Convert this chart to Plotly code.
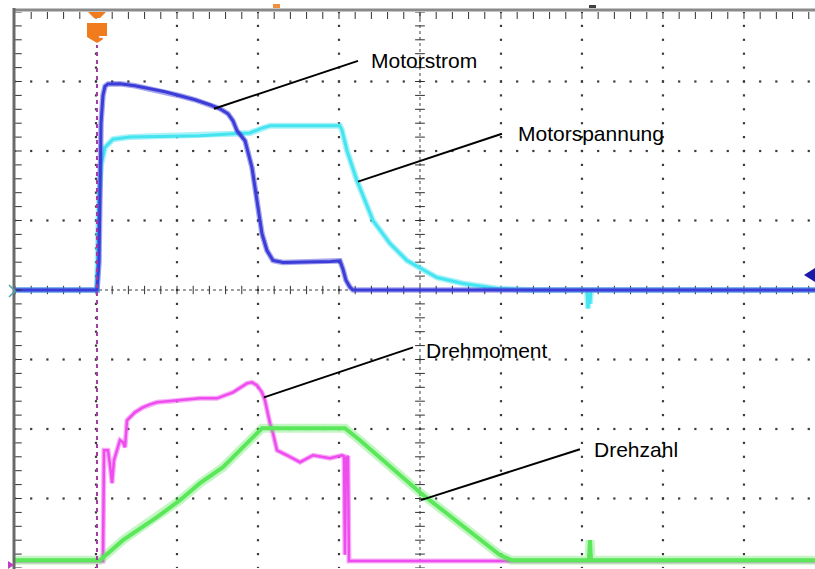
import numpy as np
import plotly.graph_objects as go

# ---- channel data (time and amplitude in screen divisions) ----
strom_t = [0, 1.012, 1.037, 1.049, 1.062, 1.086, 1.111, 1.148, 1.296, 1.481, 1.667,
           1.852, 2.037, 2.222, 2.407, 2.531, 2.630, 2.691, 2.741, 2.840, 2.926,
           2.988, 3.049, 3.111, 3.185, 3.309, 3.600, 3.900, 4.012, 4.049, 4.086,
           4.136, 4.173, 9.877]
strom_v = [0, 0, 0.4, 1.3, 2.4, 2.8, 2.93, 2.965, 2.967, 2.938, 2.895,
           2.852, 2.795, 2.737, 2.665, 2.608, 2.536, 2.435, 2.292, 2.148, 1.760,
           1.286, 0.811, 0.568, 0.424, 0.395, 0.400, 0.410, 0.420, 0.300, 0.140,
           0.040, 0, 0]

spannung_t = [0, 1.012, 1.037, 1.062, 1.111, 1.210, 1.420, 2.284, 2.691, 2.901,
              3.049, 3.148, 4.012, 4.037, 4.099, 4.222, 4.420, 4.630, 4.840, 5.000,
              5.210, 5.531, 5.951, 6.358, 7.062, 7.074, 7.086, 7.099, 7.111, 9.877]
spannung_v = [0, 0, 1.3, 1.8, 2.05, 2.17, 2.20, 2.22, 2.25, 2.26,
              2.33, 2.364, 2.364, 2.30, 2.004, 1.573, 0.999, 0.668, 0.424, 0.323,
              0.180, 0.093, 0.022, 0, 0, -0.266, -0.05, -0.20, 0, 0]

moment_t = [0, 1.086, 1.099, 1.148, 1.173, 1.198, 1.222, 1.247, 1.296, 1.333,
            1.358, 1.383, 1.420, 1.481, 1.580, 1.667, 1.753, 1.914, 2.000, 2.284,
            2.494, 2.691, 2.864, 2.926, 2.988, 3.049, 3.086, 3.111, 3.148, 3.185,
            3.235, 3.358, 3.519, 3.679, 3.889, 4.037, 4.062, 4.074, 4.086, 4.111,
            4.123, 7.086, 7.099, 7.111, 9.877]
moment_v = [-3.90, -3.90, -2.306, -2.306, -2.52, -2.780, -2.45, -2.349, -2.162, -2.19,
            -2.263, -1.875, -1.832, -1.760, -1.688, -1.645, -1.616, -1.600, -1.588, -1.559,
            -1.559, -1.473, -1.343, -1.329, -1.372, -1.473, -1.588, -1.731, -1.918, -2.062,
            -2.306, -2.378, -2.478, -2.378, -2.421, -2.378, -2.39, -3.81, -2.42, -2.39,
            -3.90, -3.90, -3.80, -3.90, -3.90]

drehzahl_t = [0, 1.049, 1.333, 1.753, 2.037, 2.284, 2.568, 2.778, 2.988, 3.049,
              4.074, 4.259, 5.012, 5.741, 5.988, 6.136, 7.086, 7.099, 7.111, 9.877]
drehzahl_v = [-3.89, -3.89, -3.599, -3.269, -3.024, -2.780, -2.550, -2.306, -2.062, -1.990,
              -1.990, -2.162, -2.924, -3.599, -3.815, -3.89, -3.89, -3.60, -3.89, -3.89]

labels = ["Motorstrom", "Motorspannung", "Drehmoment", "Drehzahl"]
label_pos = [(4.37, 3.297), (6.185, 2.249), (5.05, -0.869), (7.123, -2.292)]
callouts = [((4.235, 3.297), (2.457, 2.608)),
            ((6.012, 2.249), (4.235, 1.559)),
            ((4.914, -0.826), (3.074, -1.545)),
            ((6.975, -2.292), (5.012, -3.024))]

X_MAX = 9.877
W, H = 815, 569
L, T, B = 15, 12, 1
PW, PH = W - L, H - T - B


def to_paper(px, py):
    return (px - L) / PW, (H - B - py) / PH


def paper_path(points, close=True):
    pts = [to_paper(x, y) for x, y in points]
    return "M" + " L".join(f"{x:.5f},{y:.5f}" for x, y in pts) + (" Z" if close else "")


fig = go.Figure()

# ---- graticule: dotted major lines ----
minor = np.round(np.arange(-4, 4.001, 0.2), 3)
minor_x = np.round(np.arange(0, X_MAX, 0.2), 3)
gx, gy = [], []
for xv in [1, 2, 3, 4, 6, 7, 8, 9]:
    gx += [xv] * len(minor)
    gy += list(minor)
for yv in [-3, -2, -1, 1, 2, 3]:
    gx += list(minor_x)
    gy += [yv] * len(minor_x)
fig.add_trace(go.Scatter(x=gx, y=gy, mode="markers", hoverinfo="skip",
                         marker=dict(symbol="square", size=2.2, color="#3a3a3a"),
                         showlegend=False))

# centre axes: dense dotted line with small cross ticks
fig.add_shape(type="line", x0=0, x1=X_MAX, y0=0, y1=0,
              line=dict(color="#404040", width=1, dash="dot"), layer="below")
fig.add_shape(type="line", x0=5, x1=5, y0=-4, y1=4,
              line=dict(color="#404040", width=1, dash="dot"), layer="below")
fig.add_trace(go.Scatter(x=list(minor_x), y=[0] * len(minor_x), mode="markers",
                         hoverinfo="skip", showlegend=False,
                         marker=dict(symbol="line-ns", size=6,
                                     line=dict(color="#303030", width=1))))
fig.add_trace(go.Scatter(x=[5] * len(minor), y=list(minor), mode="markers",
                         hoverinfo="skip", showlegend=False,
                         marker=dict(symbol="line-ew", size=7,
                                     line=dict(color="#303030", width=1))))


# ---- signal traces (soft halo + solid core) ----
def add_channel(t, v, color, core, halo, halo_op=0.45):
    fig.add_trace(go.Scatter(x=t, y=v, mode="lines", hoverinfo="skip", showlegend=False,
                             line=dict(color=color, width=halo), opacity=halo_op))
    fig.add_trace(go.Scatter(x=t, y=v, mode="lines", hoverinfo="skip", showlegend=False,
                             line=dict(color=color, width=core)))


add_channel(spannung_t, spannung_v, "#44e4f0", 3, 6)
add_channel(strom_t, strom_v, "#3c3cd8", 3, 5.5)
add_channel(moment_t, moment_v, "#ee4cee", 2.5, 5)
add_channel(drehzahl_t, drehzahl_v, "#5ae85a", 4, 9, 0.35)

# ---- trigger line ----
fig.add_shape(type="line", x0=1.012, x1=1.012, y0=-4, y1=(290 - 45) / 69.5,
              line=dict(color="#a23ca2", width=2, dash="4px,4px"))

# ---- frame with tick marks ----
fig.add_shape(type="line", xref="paper", yref="paper",
              x0=to_paper(13, 0)[0], x1=1, y0=to_paper(0, 10)[1], y1=to_paper(0, 10)[1],
              line=dict(color="#8a8a8a", width=3))
fig.add_shape(type="line", xref="paper", yref="paper",
              x0=to_paper(14, 0)[0], x1=to_paper(14, 0)[0], y0=to_paper(0, 569)[1],
              y1=to_paper(0, 8)[1], line=dict(color="#6a6a6a", width=3))
fig.add_trace(go.Scatter(x=[0.04] * len(minor), y=list(minor), mode="markers",
                         hoverinfo="skip", showlegend=False,
                         marker=dict(symbol="line-ew", size=5,
                                     line=dict(color="#303030", width=1))))
fig.add_trace(go.Scatter(x=list(minor_x[1:]), y=[3.95] * (len(minor_x) - 1), mode="markers",
                         hoverinfo="skip", showlegend=False,
                         marker=dict(symbol="line-ns", size=5,
                                     line=dict(color="#303030", width=1))))

# ---- trigger badge ----
fig.add_shape(type="path", xref="paper", yref="paper",
              path=paper_path([(88, 12), (106, 12), (100, 18), (94, 18)]),
              fillcolor="#f07c1e", line=dict(width=0))
fig.add_shape(type="path", xref="paper", yref="paper",
              path=paper_path([(87, 23), (107, 23), (107, 37), (97, 43), (87, 37)]),
              fillcolor="#f07c1e", line=dict(width=0))
tx, ty = to_paper(97, 31)
fig.add_annotation(x=tx, y=ty, xref="paper", yref="paper", text="<b>T</b>",
                   showarrow=False,
                   font=dict(family="Liberation Sans", size=17, color="white"))

# small markers on the screen edges
fig.add_shape(type="path", xref="paper", yref="paper",
              path=paper_path([(9, 285), (15, 291), (9, 297)], close=False),
              line=dict(color="#4aa6b0", width=1.5))
fig.add_shape(type="path", xref="paper", yref="paper",
              path=paper_path([(8, 561), (14, 565), (8, 569)]),
              fillcolor="#c03cc0", line=dict(width=0))
fig.add_shape(type="path", xref="paper", yref="paper",
              path=paper_path([(815, 268), (804, 275), (815, 282)]),
              fillcolor="#1a1aa8", line=dict(width=0))
fig.add_shape(type="rect", xref="paper", yref="paper",
              x0=to_paper(273, 0)[0], x1=to_paper(280, 0)[0],
              y0=to_paper(0, 8)[1], y1=to_paper(0, 4)[1],
              fillcolor="#f09040", line=dict(width=0))
fig.add_shape(type="rect", xref="paper", yref="paper",
              x0=to_paper(589, 0)[0], x1=to_paper(596, 0)[0],
              y0=to_paper(0, 8)[1], y1=to_paper(0, 5)[1],
              fillcolor="#404040", line=dict(width=0))

# ---- labels with callout lines ----
for name, (lx, ly), ((x0, y0), (x1, y1)) in zip(labels, label_pos, callouts):
    fig.add_shape(type="line", x0=x0, y0=y0, x1=x1, y1=y1,
                  line=dict(color="black", width=2))
    fig.add_annotation(x=lx, y=ly, text=name, showarrow=False, xanchor="left",
                       yanchor="middle",
                       font=dict(family="Liberation Sans", size=21, color="black"))

fig.update_xaxes(range=[0, X_MAX], visible=False, fixedrange=True)
fig.update_yaxes(range=[-4, 4], visible=False, fixedrange=True)
fig.update_layout(width=W, height=H, margin=dict(l=L, r=0, t=T, b=B),
                  plot_bgcolor="white", paper_bgcolor="white", showlegend=False)

fig.write_html("out.html")
